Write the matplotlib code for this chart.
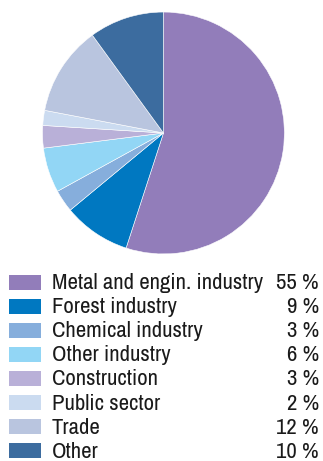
import matplotlib
matplotlib.use("Agg")
import matplotlib.pyplot as plt
from matplotlib.patches import Rectangle

# Data
sectors = ['Metal and engin. industry', 'Forest industry', 'Chemical industry',
           'Other industry', 'Construction', 'Public sector', 'Trade', 'Other']
shares = [55, 9, 3, 6, 3, 2, 12, 10]
colors = ['#927dba', '#0078c1', '#86aedc', '#92d6f5',
          '#b9b0d8', '#cbdbf0', '#b9c5df', '#3c6c9f']

plt.rcParams['font.family'] = ['Archivo Narrow', 'DejaVu Sans']

fig = plt.figure(figsize=(3.23, 4.61), dpi=100)

# Pie
ax = fig.add_axes([0.1316, 0.449, 0.749, 0.525])
ax.pie(shares, colors=colors, startangle=90, counterclock=False,
       wedgeprops=dict(edgecolor='white', linewidth=0.4))
ax.set_xlim(-1, 1)
ax.set_ylim(-1, 1)
ax.set_aspect('equal')
ax.axis('off')

# Legend drawn as rows
lax = fig.add_axes([0, 0, 1, 1])
lax.set_xlim(0, 323)
lax.set_ylim(461, 0)
lax.axis('off')
y0, step = 282, 24.1
for i, (name, val, c) in enumerate(zip(sectors, shares, colors)):
    y = y0 + i * step
    lax.add_patch(Rectangle((9, y - 7.5), 32, 15, facecolor=c, edgecolor='none'))
    lax.text(52, y + 1, name, fontsize=16.4, va='center', ha='left', color='#1a1a1a')
    lax.text(319, y + 1, f'{val} %', fontsize=16.4, va='center', ha='right', color='#1a1a1a')

fig.savefig('out.png', dpi=100)
